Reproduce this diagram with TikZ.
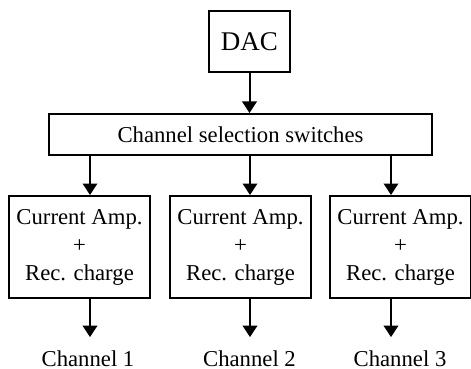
\documentclass[tikz,border=0pt]{standalone}
\usepackage{fontspec}
\setmainfont{Liberation Serif}
\usetikzlibrary{arrows.meta, positioning}

\begin{document}
\begin{tikzpicture}[x=0.5pt, y=-0.5pt,
        block/.style={rectangle, draw, line width=1pt, inner sep=0pt, align=center, font=\fontsize{11.35}{14}\selectfont},
        chan/.style={inner xsep=0pt, inner ysep=6.75pt, font=\fontsize{11.35}{14}\selectfont},
        line/.style={draw, line width=1pt, -{Triangle[length=5.75pt, width=7.25pt]}}]

        \useasboundingbox (0,0) rectangle (471,369);

        % Nodes
        \node [block, minimum width=40.5pt, minimum height=30.5pt, font=\fontsize{13.5}{16}\selectfont] (dac) at (249.5,41.5) {DAC};
        \node [block, minimum width=191.5pt, minimum height=20.5pt] (switches) at (240.5,134.5) {Channel selection switches};
        \node [block, minimum width=70.5pt, minimum height=51pt] (amp1) at (79.5,247) {Current Amp.\\+\\Rec. charge};
        \node [block, minimum width=70.5pt, minimum height=51pt] (amp2) at (240.5,247) {Current Amp.\\+\\Rec. charge};
        \node [block, minimum width=70.5pt, minimum height=51pt] (amp3) at (400.5,247) {Current Amp.\\+\\Rec. charge};
        \node [chan] (out1) at (88,359) {Channel 1};
        \node [chan] (out2) at (249.5,359) {Channel 2};
        \node [chan] (out3) at (400,359) {Channel 3};

        % Edges
        \path [line] (dac.south) -- (switches.north -| dac.south);
        \path [line] ([xshift=5.25pt]amp1.north |- switches.south) -- ([xshift=5.25pt]amp1.north);
        \path [line] ([xshift=4.75pt]amp2.north |- switches.south) -- ([xshift=4.75pt]amp2.north);
        \path [line] ([xshift=-4.75pt]amp3.north |- switches.south) -- ([xshift=-4.75pt]amp3.north);
        \path [line] ([xshift=5.25pt]amp1.south) -- ([xshift=5.25pt]amp1.south |- out1.north);
        \path [line] ([xshift=4.75pt]amp2.south) -- ([xshift=4.75pt]amp2.south |- out2.north);
        \path [line] ([xshift=-4.75pt]amp3.south) -- ([xshift=-4.75pt]amp3.south |- out3.north);

\end{tikzpicture}
\end{document}
